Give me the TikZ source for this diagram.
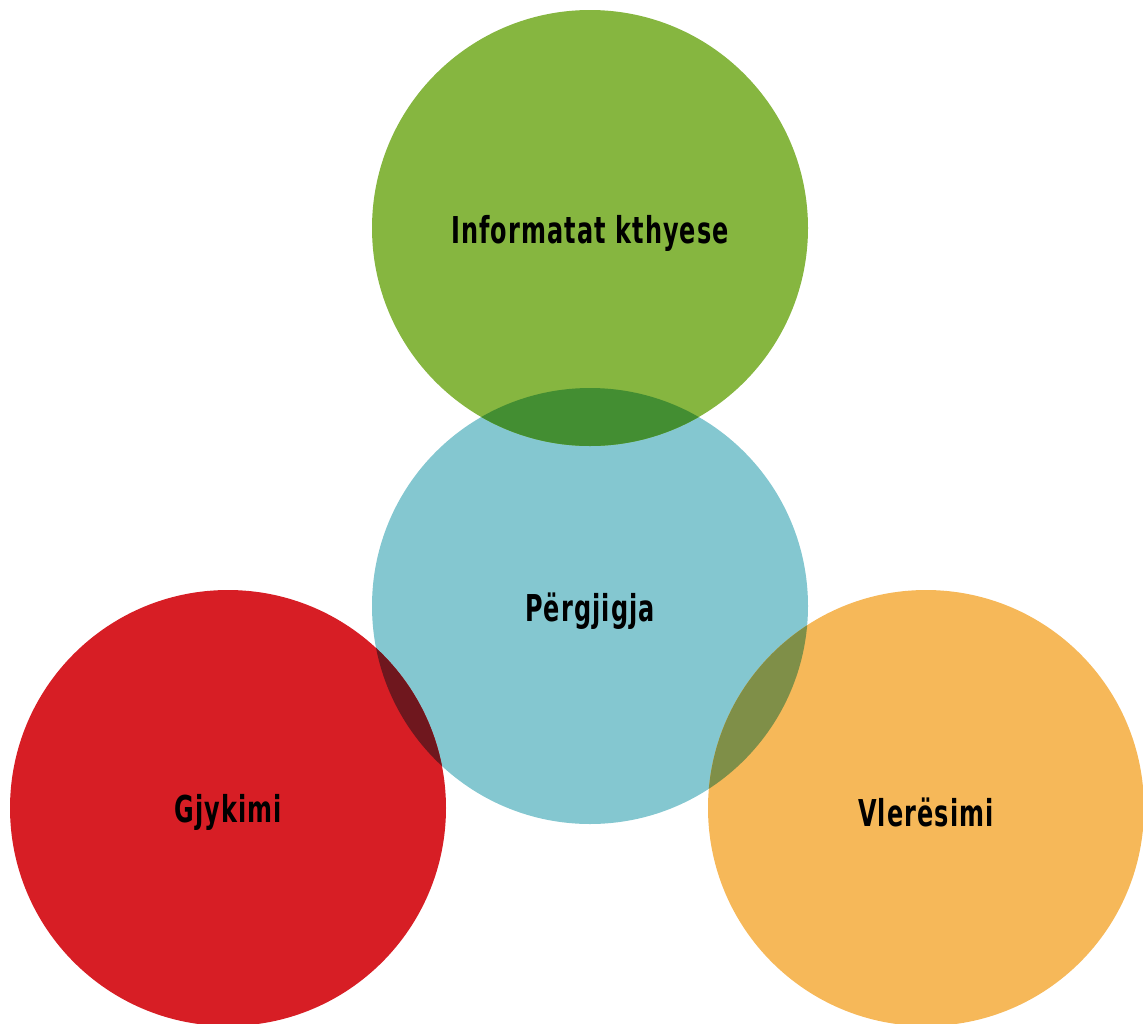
\documentclass[tikz,border=0pt]{standalone}
\usepackage{fontspec}
\setmainfont[FakeStretch=0.72,LetterSpace=3,BoldFeatures={FakeStretch=0.72,LetterSpace=3}]{DejaVu Sans Condensed}
\begin{document}
\begin{tikzpicture}[x=1pt,y=-1pt,
  lbl/.style={font=\fontsize{37}{42}\selectfont\bfseries, text=black}]
\definecolor{cgreen}{HTML}{86B640}
\definecolor{cblue}{HTML}{84C7D0}
\definecolor{cred}{HTML}{D71E25}
\definecolor{corange}{HTML}{F6B859}
\definecolor{cgreenblue}{HTML}{438E32}
\definecolor{credblue}{HTML}{6F171E}
\definecolor{corangeblue}{HTML}{7F8F48}
\useasboundingbox (0,0) rectangle (1143,1023);
\def\R{218}
% circle centres
\coordinate (g) at (590,228);
\coordinate (b) at (590,606);
\coordinate (r) at (228,808);
\coordinate (o) at (926,808);
% discs
\fill[cblue] (b) circle (\R);
\fill[cgreen] (g) circle (\R);
\fill[cred] (r) circle (\R);
\fill[corange] (o) circle (\R);
% overlaps with the centre disc
\begin{scope}
  \clip (b) circle (\R);
  \fill[cgreenblue] (g) circle (\R);
  \fill[credblue] (r) circle (\R);
  \fill[corangeblue] (o) circle (\R);
\end{scope}
% labels
\node[lbl] (tg) at (590,233) {Informatat kthyese};
\node[lbl] (tb) at (590,611) {Përgjigja};
\node[lbl] (tr) at (228,812) {Gjykimi};
\node[lbl] (to) at (926,812) {Vlerësimi};
\end{tikzpicture}
\end{document}
